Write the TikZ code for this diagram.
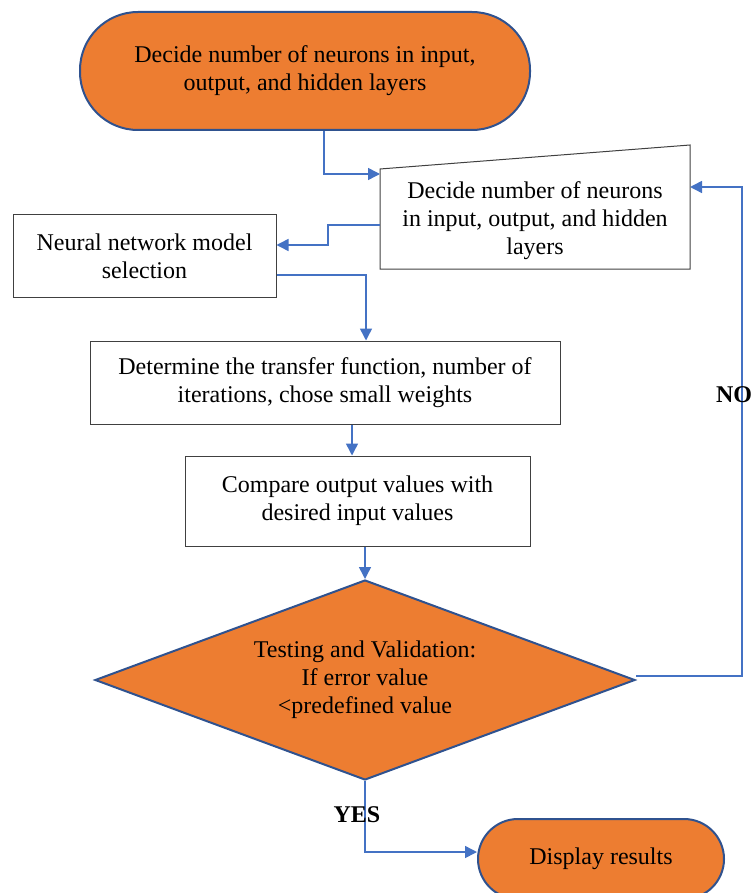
\documentclass[tikz,border=0pt]{standalone}
\usepackage{fontspec}
\setmainfont{Liberation Serif}
\usetikzlibrary{arrows.meta,shapes.geometric}
\definecolor{FlowOrange}{HTML}{ED7D31}
\definecolor{FlowBorder}{HTML}{2F528F}
\definecolor{FlowArrow}{HTML}{4472C4}

\begin{document}
\begin{tikzpicture}[x=0.5pt,y=-0.5pt,
  every node/.style={font=\fontsize{12}{14}\selectfont,align=center},
  term/.style={draw=FlowBorder,fill=FlowOrange,line width=1pt,rounded corners=#1},
  box/.style={draw=black!75,line width=0.5pt,inner sep=0pt},
  arr/.style={draw=FlowArrow,line width=0.75pt,-{Triangle[length=6pt,width=6pt]}},
  lbl/.style={font=\fontsize{12}{14}\selectfont\bfseries}]

\useasboundingbox (0,0) rectangle (750,893);

\node[term=29pt,minimum width=225pt,minimum height=59pt] (top) at (305,71) {Decide number of neurons in input,\\output, and hidden layers};

\draw[box] (380,169) -- (690,145) -- (690,269) -- (380,269) -- cycle;
\node (neur) at (535,221) {Decide number of neurons\\in input, output, and hidden\\layers};
\coordinate (inA) at (380,174);
\coordinate (inW) at (380,225);
\coordinate (inE) at (690,187);

\node[box,minimum width=131.5pt,minimum height=41pt] (model) at (144.5,256) {Neural network model\\selection};
\node[box,minimum width=235pt,minimum height=41.5pt] (trans) at (325,382.5) {Determine the transfer function, number of\\iterations, chose small weights};
\node[box,minimum width=172.5pt,minimum height=45pt] (cmp) at (357.5,501) {Compare output values with\\desired input values};
\node[diamond,draw=FlowBorder,fill=FlowOrange,line width=1pt,aspect=2.7,inner sep=0pt,minimum width=270pt,minimum height=100pt] (test) at (365,680) {Testing and Validation:\\If error value\\<predefined value};
\node[term=20pt,minimum width=123pt,minimum height=40pt] (disp) at (601,859) {Display results};

\draw[arr] ([xshift=9.5pt]top.south) |- (inA);
\draw[arr] (inW) -- ++(-52,0) |- ([yshift=5.5pt]model.east);
\draw[arr] ([yshift=-9.5pt]model.east) -| ([xshift=20.5pt]trans.north);
\draw[arr] ([xshift=13.5pt]trans.south) -- ([xshift=13.5pt]trans.south |- cmp.north);
\draw[arr] (cmp.south -| test.north) -- (test.north);
\draw[arr] ([yshift=2pt]test.east) -- ++(106,0) |- (inE);
\draw[arr] (test.south) |- ([yshift=3.5pt]disp.west);

\node[lbl] (no) at (734,395) {NO};
\node[lbl] (yes) at (357,815) {YES};

\end{tikzpicture}
\end{document}
